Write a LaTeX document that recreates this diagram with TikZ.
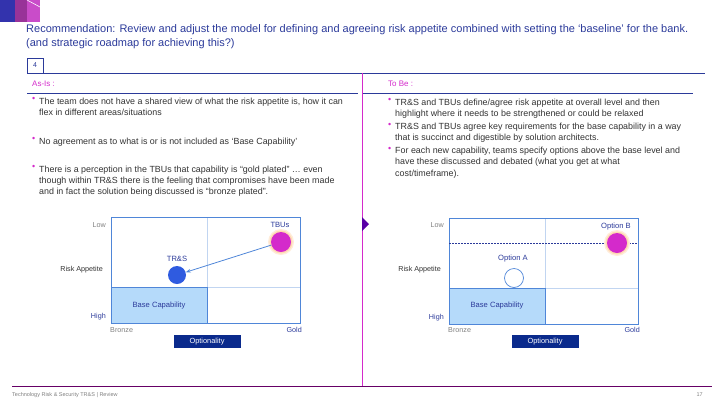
\documentclass[tikz,border=0pt]{standalone}
\usepackage{fontspec}
\setmainfont{Liberation Sans}
\usetikzlibrary{arrows.meta}
\definecolor{navy}{HTML}{2B3A9A}
\definecolor{mag}{HTML}{D42ACB}
\definecolor{lblue}{HTML}{4F86D8}
\definecolor{fillb}{HTML}{B5DAFA}
\definecolor{txt}{HTML}{333333}
\definecolor{dkb}{HTML}{0A2A8C}
\definecolor{trsb}{HTML}{2F5BE0}
\begin{document}
\begin{tikzpicture}[x=1pt,y=-1pt,
  title/.style={anchor=west,text=navy,font=\fontsize{11}{13}\selectfont,inner sep=0},
  bul/.style={anchor=north west,text=txt,font=\fontsize{8.9}{11.3}\selectfont,inner sep=0,align=left},
  dot/.style={anchor=north west,text=mag,font=\fontsize{8.9}{11.3}\selectfont,inner sep=0},
  axl/.style={font=\fontsize{7.2}{8}\selectfont,inner sep=0},
  cl/.style={font=\fontsize{7.6}{8}\selectfont,text=navy,inner sep=0},
  frame/.style={draw=lblue,line width=0.8pt},
  grid/.style={draw=lblue!35,line width=0.5pt},
  opt/.style={fill=dkb,text=white,font=\fontsize{7.4}{8}\selectfont,minimum width=67pt,minimum height=13pt,inner sep=0},
  glow/.style={fill=orange!#1,draw=none}]
\useasboundingbox (0,0) rectangle (720,405);
% logo
\fill[blue!60!black!80] (0,0) rectangle (15,22);
\fill[violet!80] (15,0) rectangle (27,22);
\fill[violet!60!magenta!70] (27,0) rectangle (40,22);
\draw[white,line width=0.6pt] (27,0) -- (40,7);
% title
\node[title] (t1) at (26,30) {Recommendation: Review and adjust the model for defining and agreeing risk appetite combined with setting the ‘baseline’ for the bank.};
\node[title] (t2) at (26,44) {(and strategic roadmap for achieving this?)};
% header box and lines
\node[draw=navy,line width=0.7pt,minimum width=16pt,minimum height=15pt,inner sep=0,text=navy,font=\fontsize{7}{8}\selectfont] (four) at (35,65.5) {4};
\draw[navy,line width=0.7pt] (27,73) -- (705,73);
\draw[navy,line width=0.7pt] (27,93) -- (358,93);
\draw[navy,line width=0.7pt] (362,93) -- (693,93);
\node[anchor=west,text=mag,font=\fontsize{8}{9}\selectfont,inner sep=0] (asis) at (32,84) {As-Is :};
\node[anchor=west,text=mag,font=\fontsize{8}{9}\selectfont,inner sep=0] (tobe) at (388,84) {To Be :};
% divider
\draw[mag,line width=0.8pt] (362,73) -- (362,386);
\fill[violet!70!blue] (362,217) -- (369,224) -- (362,231) -- cycle;
% footer
\draw[violet!80!black,line width=0.7pt] (12,386) -- (712,386);
\node[anchor=west,text=gray,font=\fontsize{5.5}{6}\selectfont,inner sep=0] (ft) at (12,395) {Technology Risk \& Security TR\&S | Review};
\node[anchor=east,text=gray,font=\fontsize{5.5}{6}\selectfont,inner sep=0] (pg) at (703,395) {17};
% left bullets
\node[dot] (b1d) at (32,97.5) {•};
\node[bul] (b1) at (39,97.5) {The team does not have a shared view of what the risk appetite is, how it can\\flex in different areas/situations};
\node[dot] (b2d) at (32,137.5) {•};
\node[bul] (b2) at (39,137.5) {No agreement as to what is or is not included as ‘Base Capability’};
\node[dot] (b3d) at (32,165.5) {•};
\node[bul] (b3) at (39,165.5) {There is a perception in the TBUs that capability is “gold plated” … even\\though within TR\&S there is the feeling that compromises have been made\\and in fact the solution being discussed is “bronze plated”.};
% right bullets
\node[dot] (r1d) at (388,98.5) {•};
\node[bul] (r1) at (395,98.5) {TR\&S and TBUs define/agree risk appetite at overall level and then\\highlight where it needs to be strengthened or could be relaxed};
\node[dot] (r2d) at (388,123) {•};
\node[bul] (r2) at (395,123) {TR\&S and TBUs agree key requirements for the base capability in a way\\that is succinct and digestible by solution architects.};
\node[dot] (r3d) at (388,147) {•};
\node[bul] (r3) at (395,147) {For each new capability, teams specify options above the base level and\\have these discussed and debated (what you get at what\\cost/timeframe).};
% left chart
\fill[fillb] (111,287) rectangle (207,323);
\draw[grid] (207,217) -- (207,287) (207,287) -- (300,287);
\draw[lblue,line width=0.8pt] (111,287) -- (207,287) -- (207,323);
\draw[frame] (111,217) rectangle (300,323);
\node[cl] (bc1) at (159,306) {Base Capability};
\node[axl,text=gray,anchor=east] (low1) at (106,225) {Low};
\node[axl,text=txt,anchor=east] (ra1) at (103,270) {Risk Appetite};
\node[axl,text=navy,anchor=east] (hi1) at (106,317) {High};
\node[axl,text=gray,anchor=west] (br1) at (110,330) {Bronze};
\node[axl,text=navy,anchor=east] (gd1) at (302,330) {Gold};
\node[opt] (op1) at (207,341.5) {Optionality};
\fill[glow=15] (281,242) circle (13);
\fill[glow=30] (281,242) circle (11.5);
\node[circle,fill=mag,minimum size=20pt,inner sep=0] (tbu) at (281,242) {};
\node[circle,fill=trsb,minimum size=18pt,inner sep=0] (trs) at (177,275) {};
\node[cl] (tbul) at (280,225) {TBUs};
\node[cl] (trsl) at (177,259) {TR\&S};
\draw[lblue,line width=0.8pt,-{Stealth[length=5pt]}] (tbu) -- (trs);
% right chart
\fill[fillb] (449,288) rectangle (545,324);
\draw[grid] (545,218) -- (545,288) (545,288) -- (638,288);
\draw[lblue,line width=0.8pt] (449,288) -- (545,288) -- (545,324);
\draw[frame] (449,218) rectangle (638,324);
\draw[navy,line width=0.5pt,dash pattern=on 1.5pt off 1.5pt] (449,243) -- (638,243);
\node[cl] (bc2) at (497,306) {Base Capability};
\node[axl,text=gray,anchor=east] (low2) at (444,225) {Low};
\node[axl,text=txt,anchor=east] (ra2) at (441,270) {Risk Appetite};
\node[axl,text=navy,anchor=east] (hi2) at (444,318) {High};
\node[axl,text=gray,anchor=west] (br2) at (448,330) {Bronze};
\node[axl,text=navy,anchor=east] (gd2) at (640,330) {Gold};
\node[opt] (op2) at (545,341.5) {Optionality};
\fill[glow=15] (617,243) circle (13);
\fill[glow=30] (617,243) circle (11.5);
\node[circle,fill=mag,minimum size=20pt,inner sep=0] (ob) at (617,243) {};
\node[circle,draw=lblue,fill=white,line width=0.7pt,minimum size=19pt,inner sep=0] (oa) at (514,278) {};
\node[cl] (obl) at (616,227) {Option B};
\node[cl] (oal) at (513,259) {Option A};
\end{tikzpicture}
\end{document}
